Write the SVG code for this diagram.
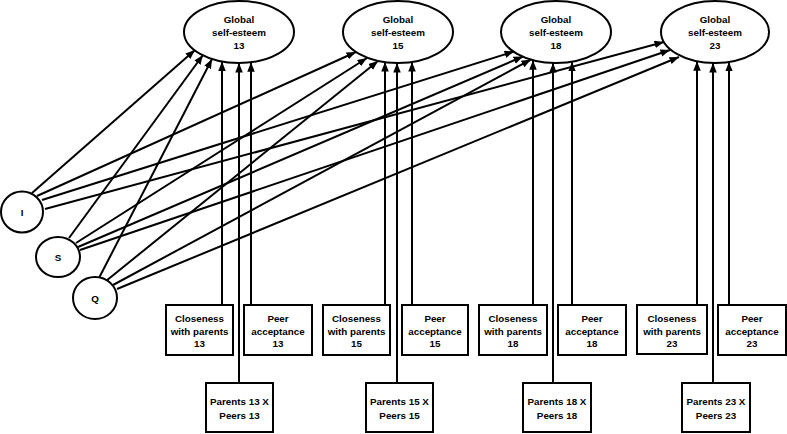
<svg xmlns="http://www.w3.org/2000/svg" width="787" height="434" viewBox="0 0 787 434">
<defs>
<marker id="ah" markerUnits="userSpaceOnUse" markerWidth="11" markerHeight="9" refX="9.5" refY="3.75" orient="auto">
<path d="M0,0 L9.5,3.75 L0,7.5 z" fill="#000"/>
</marker>
<style>
.n{fill:#fff;stroke:#000;stroke-width:2}
.t{font-family:"Liberation Sans",Arial,sans-serif;font-size:9.8px;font-weight:bold;text-anchor:middle;fill:#000}
.c line{stroke:#000;stroke-width:2;marker-end:url(#ah)}
</style>
</defs>
<rect width="787" height="434" fill="#fff"/>
<g class="c" id="connectors">
<line x1="32" y1="193" x2="195" y2="50"/>
<line x1="37" y1="196" x2="356" y2="52"/>
<line x1="42" y1="200" x2="514" y2="51.5"/>
<line x1="45" y1="209" x2="664" y2="42"/>
<line x1="69" y1="238" x2="203" y2="55"/>
<line x1="76" y1="243" x2="367" y2="58"/>
<line x1="78" y1="247" x2="523" y2="56.5"/>
<line x1="80" y1="250" x2="670" y2="50"/>
<line x1="99" y1="278" x2="212" y2="59"/>
<line x1="106" y1="281" x2="378" y2="61"/>
<line x1="113" y1="285" x2="531" y2="59.5"/>
<line x1="117" y1="289" x2="679" y2="57"/>
<line x1="222" y1="305" x2="222" y2="61.5"/>
<line x1="239" y1="383" x2="239" y2="63"/>
<line x1="251" y1="305" x2="251" y2="62.3"/>
<line x1="385" y1="305" x2="385" y2="62.1"/>
<line x1="397" y1="383" x2="397" y2="63"/>
<line x1="412" y1="305" x2="412" y2="62"/>
<line x1="533" y1="305" x2="533" y2="60.2"/>
<line x1="553" y1="383" x2="553" y2="63"/>
<line x1="572" y1="305" x2="572" y2="61.7"/>
<line x1="697" y1="305" x2="697" y2="61.2"/>
<line x1="713" y1="383" x2="713" y2="63"/>
<line x1="729" y1="305" x2="729" y2="61.9"/>
</g>
<g id="gse13"><ellipse class="n" cx="239" cy="32" rx="55" ry="31"/><text class="t" x="239" y="23">Global</text><text class="t" x="239" y="36">self-esteem</text><text class="t" x="239" y="48.5">13</text></g>
<g id="gse15"><ellipse class="n" cx="398" cy="32" rx="55" ry="31"/><text class="t" x="398" y="23">Global</text><text class="t" x="398" y="36">self-esteem</text><text class="t" x="398" y="48.5">15</text></g>
<g id="gse18"><ellipse class="n" cx="556" cy="32" rx="55" ry="31"/><text class="t" x="556" y="23">Global</text><text class="t" x="556" y="36">self-esteem</text><text class="t" x="556" y="48.5">18</text></g>
<g id="gse23"><ellipse class="n" cx="715" cy="32" rx="54" ry="31"/><text class="t" x="715" y="23">Global</text><text class="t" x="715" y="36">self-esteem</text><text class="t" x="715" y="48.5">23</text></g>
<g id="I"><ellipse class="n" cx="22" cy="212" rx="21" ry="20.5"/><text class="t" x="22" y="215.5">I</text></g>
<g id="S"><ellipse class="n" cx="58" cy="257" rx="22" ry="20"/><text class="t" x="58" y="260.5">S</text></g>
<g id="Q"><ellipse class="n" cx="95" cy="298" rx="22" ry="21"/><text class="t" x="95" y="301.5">Q</text></g>
<g id="cp13"><rect class="n" x="166" y="305" width="67" height="50"/><text class="t" x="199.5" y="322">Closeness</text><text class="t" x="199.5" y="334.5">with parents</text><text class="t" x="199.5" y="347">13</text></g>
<g id="pa13"><rect class="n" x="244" y="305" width="68" height="50"/><text class="t" x="278" y="322">Peer</text><text class="t" x="278" y="334.5">acceptance</text><text class="t" x="278" y="347">13</text></g>
<g id="cp15"><rect class="n" x="323" y="305" width="67" height="50"/><text class="t" x="356.5" y="322">Closeness</text><text class="t" x="356.5" y="334.5">with parents</text><text class="t" x="356.5" y="347">15</text></g>
<g id="pa15"><rect class="n" x="402" y="305" width="66" height="50"/><text class="t" x="435" y="322">Peer</text><text class="t" x="435" y="334.5">acceptance</text><text class="t" x="435" y="347">15</text></g>
<g id="cp18"><rect class="n" x="479" y="305" width="68" height="50"/><text class="t" x="513" y="322">Closeness</text><text class="t" x="513" y="334.5">with parents</text><text class="t" x="513" y="347">18</text></g>
<g id="pa18"><rect class="n" x="558" y="305" width="68" height="50"/><text class="t" x="592" y="322">Peer</text><text class="t" x="592" y="334.5">acceptance</text><text class="t" x="592" y="347">18</text></g>
<g id="cp23"><rect class="n" x="637" y="305" width="70" height="49"/><text class="t" x="672" y="322">Closeness</text><text class="t" x="672" y="334.5">with parents</text><text class="t" x="672" y="347">23</text></g>
<g id="pa23"><rect class="n" x="718" y="305" width="68" height="50"/><text class="t" x="752" y="322">Peer</text><text class="t" x="752" y="334.5">acceptance</text><text class="t" x="752" y="347">23</text></g>
<g id="px13"><rect class="n" x="206" y="383" width="67" height="49"/><text class="t" x="239.5" y="405">Parents 13 X</text><text class="t" x="239.5" y="418.5">Peers 13</text></g>
<g id="px15"><rect class="n" x="366" y="383" width="67" height="49"/><text class="t" x="399.5" y="405">Parents 15 X</text><text class="t" x="399.5" y="418.5">Peers 15</text></g>
<g id="px18"><rect class="n" x="523" y="383" width="68" height="49"/><text class="t" x="557" y="405">Parents 18 X</text><text class="t" x="557" y="418.5">Peers 18</text></g>
<g id="px23"><rect class="n" x="682" y="383" width="68" height="49"/><text class="t" x="716" y="405">Parents 23 X</text><text class="t" x="716" y="418.5">Peers 23</text></g>
</svg>
